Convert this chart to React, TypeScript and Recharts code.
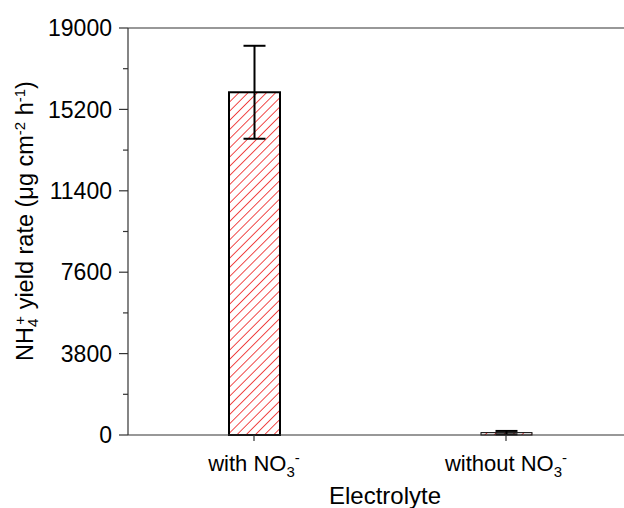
import { BarChart, Bar, XAxis, YAxis, ErrorBar, ReferenceLine } from "recharts";

const categories = ["with", "without"];
const yieldRate = [16000, 110];
const yieldError = [2170, 80];
const yTicks = [
  0, 1900, 3800, 5700, 7600, 9500, 11400, 13300, 15200, 17100, 19000,
];

const data = categories.map((c, i) => ({
  name: c,
  value: yieldRate[i],
  err: yieldError[i],
}));

const FONT = "'Liberation Sans', Arial, sans-serif";

function HatchedBar(props: any) {
  const { x, y, width, height, index } = props;
  const id = `hatch-${index}`;
  return (
    <g>
      <defs>
        <pattern
          id={id}
          patternUnits="userSpaceOnUse"
          width={6.5}
          height={6.5}
          patternTransform="rotate(45)"
        >
          <line x1={0} y1={0} x2={0} y2={6.5} stroke="#ee2a2a" strokeWidth={1.7} />
        </pattern>
      </defs>
      <rect
        x={x}
        y={y}
        width={width}
        height={height}
        fill={`url(#${id})`}
        stroke="#000"
        strokeWidth={index === 0 ? 2 : 1}
      />
    </g>
  );
}

function YTick(props: any) {
  const { x, y, payload } = props;
  const major = payload.value % 3800 === 0;
  return (
    <g>
      <line x1={x} y1={y} x2={x - (major ? 9 : 5)} y2={y} stroke="#333" strokeWidth={1.2} />
      {major && (
        <text
          x={x - 16}
          y={y}
          dy="0.36em"
          textAnchor="end"
          fontSize={23}
          fontFamily={FONT}
          fill="#000"
        >
          {payload.value}
        </text>
      )}
    </g>
  );
}

function XTick(props: any) {
  const { x, y, payload } = props;
  const label = payload.value === "with" ? "with NO" : "without NO";
  return (
    <text
      x={x}
      y={y + 28}
      textAnchor="middle"
      fontSize={22}
      fontFamily={FONT}
      fill="#000"
    >
      {label}
      <tspan dy={6} fontSize={15}>3</tspan>
      <tspan dy={-14} fontSize={15}>-</tspan>
    </text>
  );
}

function YLabel() {
  return (
    <text
      x={33}
      y={221}
      transform="rotate(-90, 33, 221)"
      textAnchor="middle"
      fontSize={23.5}
      fontFamily={FONT}
      fill="#000"
    >
      NH
      <tspan dy={5} fontSize={15}>4</tspan>
      <tspan dx={-6} dy={-13} fontSize={15}>+</tspan>
      <tspan dy={8}> yield rate (μg cm</tspan>
      <tspan dy={-8} fontSize={15}>-2</tspan>
      <tspan dy={8}> h</tspan>
      <tspan dy={-8} fontSize={15}>-1</tspan>
      <tspan dy={8}>)</tspan>
    </text>
  );
}

function XLabel() {
  return (
    <text
      x={385}
      y={504}
      textAnchor="middle"
      fontSize={24}
      fontFamily={FONT}
      fill="#000"
    >
      Electrolyte
    </text>
  );
}

export default function App() {
  return (
    <div
      style={{
        position: "absolute",
        left: 0,
        top: 0,
        width: 624,
        height: 508,
        overflow: "hidden",
        background: "#fff",
      }}
    >
      <BarChart
        width={640}
        height={508}
        data={data}
        margin={{ top: 28, right: 8, left: 0, bottom: 0 }}
      >
        <XAxis
          dataKey="name"
          height={73}
          tick={<XTick />}
          tickSize={6}
          tickMargin={2}
          axisLine={{ stroke: "#333", strokeWidth: 1.2 }}
          tickLine={{ stroke: "#333", strokeWidth: 1.2 }}
          label={{ content: () => <XLabel /> }}
        />
        <YAxis
          width={128}
          domain={[0, 19000]}
          ticks={yTicks}
          interval={0}
          tickSize={0}
          tickMargin={0}
          tickLine={false}
          tick={<YTick />}
          axisLine={{ stroke: "#333", strokeWidth: 1.2 }}
          label={{ content: () => <YLabel /> }}
        />
        <ReferenceLine y={19000} stroke="#333" strokeWidth={1.2} />
        <Bar
          dataKey="value"
          barSize={51}
          shape={<HatchedBar />}
          isAnimationActive={false}
        >
          <ErrorBar dataKey="err" width={11} stroke="#000" strokeWidth={2} />
        </Bar>
      </BarChart>
    </div>
  );
}
